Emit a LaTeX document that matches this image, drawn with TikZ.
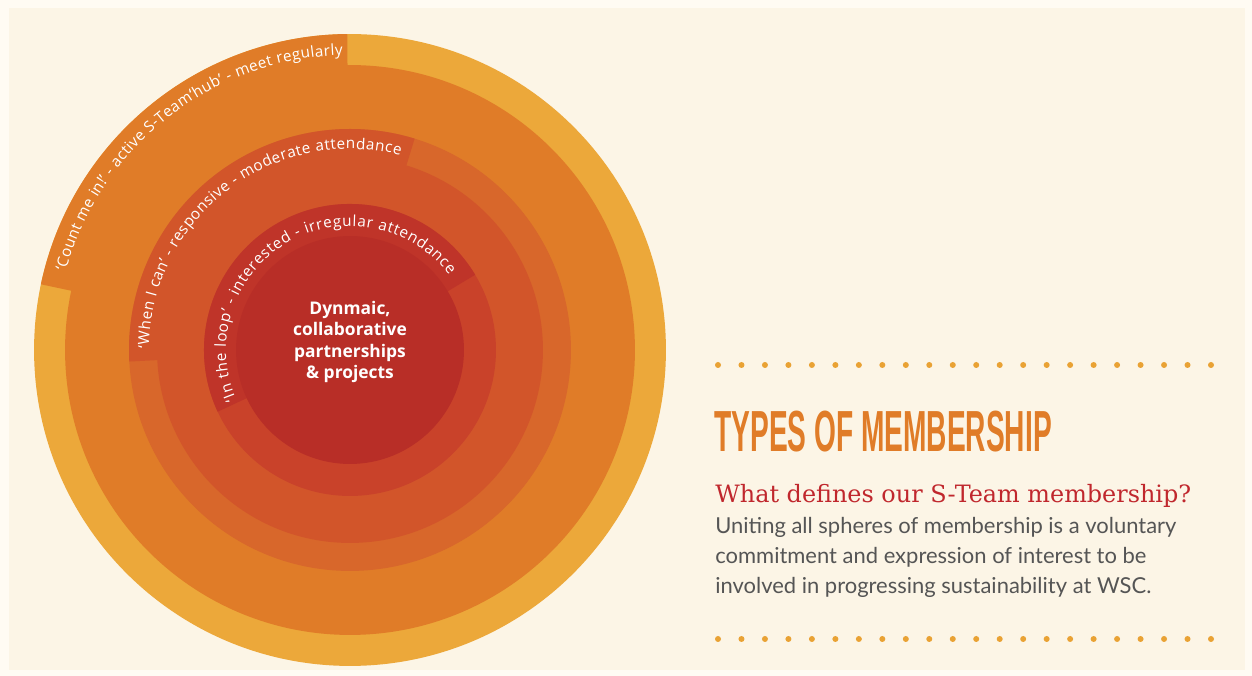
\documentclass[tikz,border=0pt]{standalone}
\usepackage{fontspec}
\usepackage{xcolor}
\usepackage{tikz}
\usetikzlibrary{positioning,decorations.text}

\setmainfont{Lato}
\newfontfamily\lblfont{Open Sans}
\newfontfamily\titlefont{Liberation Sans}
\newfontfamily\subfont{DejaVu Serif}
\newcommand\lblsize{\lblfont\fontsize{8.7pt}{10pt}\selectfont}

\definecolor{ringA}{HTML}{ECA83A}
\definecolor{ringB}{HTML}{E07C28}
\definecolor{ringC}{HTML}{D8672B}
\definecolor{ringD}{HTML}{D2552A}
\definecolor{ringE}{HTML}{C9422A}
\definecolor{ringF}{HTML}{B82E27}
\definecolor{loopband}{HTML}{BF3429}
\definecolor{paper}{HTML}{FCF5E6}
\definecolor{paperedge}{HTML}{FFFBF3}
\definecolor{dotcol}{HTML}{E9A234}
\definecolor{subred}{HTML}{C0272D}
\definecolor{bodygray}{HTML}{555555}

\begin{document}
\begin{tikzpicture}[
    x=0.02cm, y=0.02cm,   % one unit = one pixel of the layout
    disk/.style = {circle, inner sep=0pt, outer sep=0pt, minimum size=#1},
    ringtext/.style = {decorate, decoration={text along path, text align={fit to path},
        text color=white, text={|\lblsize|#1}}},
    dotrow/.style = {dotcol},
  ]
  \useasboundingbox (0,0) rectangle (1252,676);
  \fill[paperedge] (0,0) rectangle (1252,676);
  \fill[paper] (9,6) rectangle (1245,668);

  % the spheres, outside in
  \coordinate (c) at (350,326);
  \node[disk=12.64cm, fill=ringA] (hubA) at (c) {};
  \node[disk=11.40cm, fill=ringB] (hubB) at (c) {};
  \begin{scope}[shift={(c)}]
    \fill[ringB] (90.5:316) arc[start angle=90.5, end angle=168, radius=316]
      -- (168:280) arc[start angle=168, end angle=90.5, radius=280] -- cycle;
  \end{scope}
  \node[disk=8.84cm, fill=ringC] (hubC) at (c) {};
  \begin{scope}[shift={(c)}]
    \fill[ringD] (73:221) arc[start angle=73, end angle=183, radius=221]
      -- (183:188) arc[start angle=183, end angle=73, radius=188] -- cycle;
  \end{scope}
  \node[disk=7.72cm, fill=ringD] (hubD) at (c) {};
  \node[disk=5.84cm, fill=ringE] (hubE) at (c) {};
  \begin{scope}[shift={(c)}]
    \fill[loopband] (31:146) arc[start angle=31, end angle=205, radius=146]
      -- (205:110) arc[start angle=205, end angle=31, radius=110] -- cycle;
  \end{scope}
  \node[disk=4.56cm, fill=ringF] (hubF) at (c) {};

  % labels round the bands
  \begin{scope}[shift={(c)}]
    \path[ringtext={‘Count me in!’ - active S-Team‘hub’ - meet regularly}]
      (164.5:295) arc[start angle=164.5, end angle=91.5, radius=295];
    \path[ringtext={‘When I can’ - responsive - moderate attendance}]
      (179.5:201) arc[start angle=179.5, end angle=75.5, radius=201];
    \path[ringtext={‘In the loop’ - interested - irregular attendance}]
      (203.5:124) arc[start angle=203.5, end angle=37, radius=124];
  \end{scope}

  \node[align=center, text=white, font=\lblfont\bfseries\fontsize{9.9pt}{12.3pt}\selectfont]
    (core) at (350,334) {Dynmaic,\\ collaborative\\ partnerships\\ \&~projects};

  % right hand panel
  \foreach \i in {0,...,21} {
    \fill[dotrow] (718+\i*23.476,311) circle[radius=3];
    \fill[dotrow] (718+\i*23.476,37) circle[radius=3];
  }
  \node[anchor=base west, inner sep=0pt, text=ringB,
        font=\titlefont\bfseries\fontsize{33pt}{33pt}\selectfont]
    (title) at (714,224) {\scalebox{0.485}[1]{TYPES OF MEMBERSHIP}};
  \node[anchor=base west, inner sep=0pt, text=subred,
        font=\subfont\fontsize{13.6pt}{16pt}\selectfont]
    (question) at (715,173) {What defines our S-Team membership?};
  \node[anchor=north west, inner sep=0pt, align=left, text=bodygray,
        font=\fontsize{12.5pt}{17pt}\selectfont]
    (answer) at (715,159) {Uniting all spheres of membership is a voluntary\\
      commitment and expression of interest to be\\
      involved in progressing sustainability at WSC.};
\end{tikzpicture}
\end{document}
